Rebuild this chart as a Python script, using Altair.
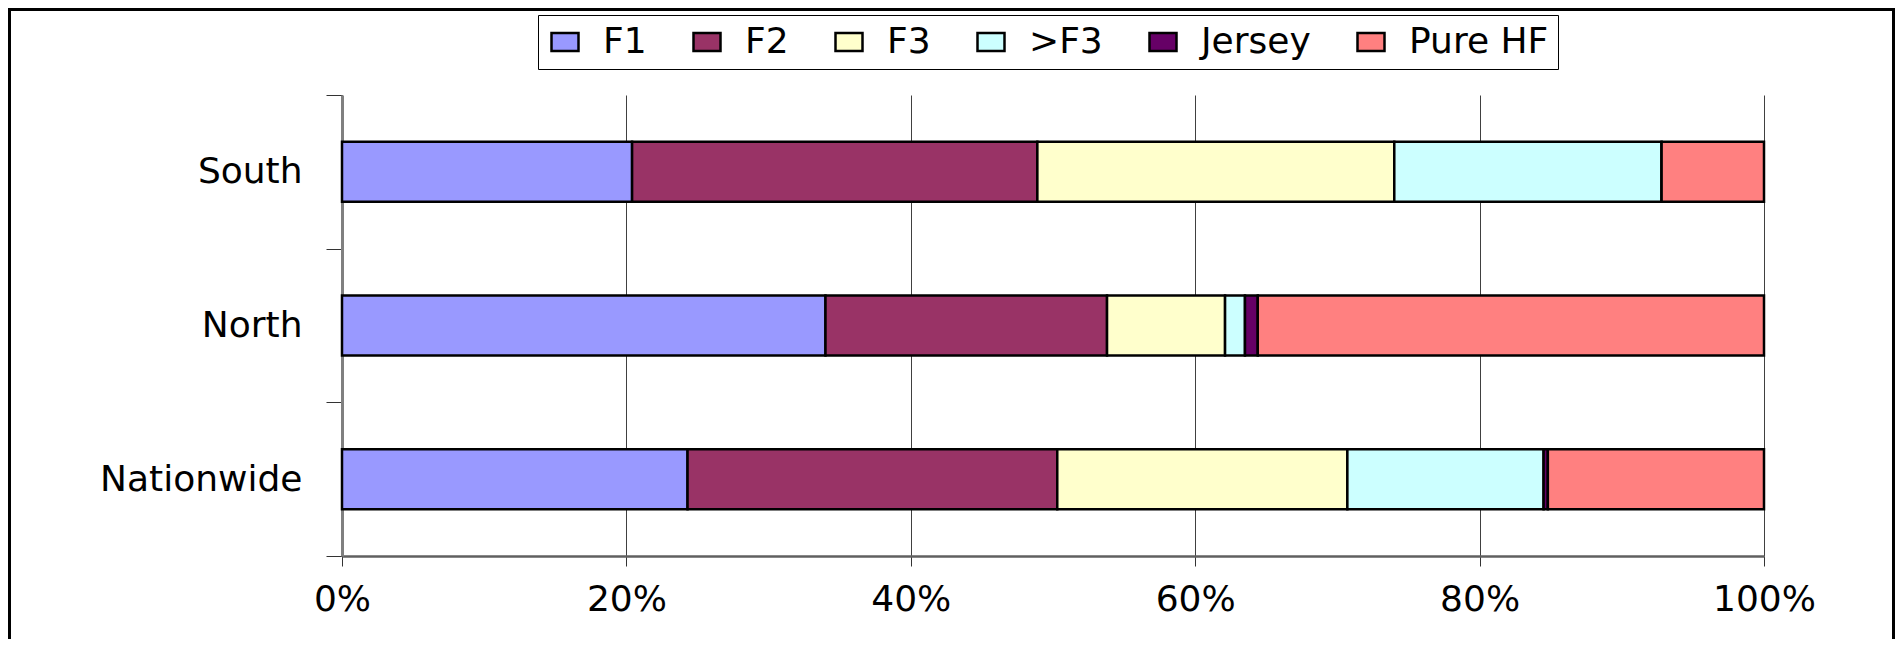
import altair as alt
import pandas as pd

# ---- data ----
regions = ["South", "North", "Nationwide"]
breeds = ["F1", "F2", "F3", ">F3", "Jersey", "Pure HF"]
south = [20.4, 28.5, 25.1, 18.8, 0.0, 7.2]
north = [34.0, 19.8, 8.3, 1.4, 0.9, 35.6]
nationwide = [24.3, 26.0, 20.4, 13.8, 0.3, 15.2]
colors = ["#9999FF", "#993366", "#FFFFCC", "#CCFFFF", "#660066", "#FF8080"]
x_ticks = [0, 0.2, 0.4, 0.6, 0.8, 1.0]

rows = []
for region, vals in zip(regions, [south, north, nationwide]):
    for i, (b, v) in enumerate(zip(breeds, vals)):
        rows.append({"region": region, "breed": b, "share": v, "order": i})
df = pd.DataFrame(rows)

FONT = "DejaVu Sans"
FS = 36
W, H = 1422, 461

bars = alt.Chart(df).mark_bar(
    stroke="black", strokeWidth=2.5, height={"band": 0.39}
).encode(
    y=alt.Y(
        "region:N",
        sort=regions,
        scale=alt.Scale(paddingInner=0, paddingOuter=0),
        axis=alt.Axis(
            title=None, tickBand="extent", tickSize=16, tickColor="#333333",
            tickWidth=1, domainColor="#808080", domainWidth=3,
            labelFontSize=FS, labelFont=FONT, labelColor="black",
            labelPadding=24, labelLimit=500, grid=False,
        ),
    ),
    x=alt.X(
        "share:Q",
        stack="normalize",
        scale=alt.Scale(domain=[0, 1], nice=False),
        axis=alt.Axis(
            title=None, values=x_ticks, format=".0%", tickSize=10,
            tickColor="#333333", tickWidth=1, domainColor="#606060",
            domainWidth=2.5, grid=True, gridColor="#404040", gridWidth=1,
            labelFontSize=FS, labelFont=FONT, labelColor="black",
            labelPadding=16, labelFlush=False, labelOverlap=False,
        ),
    ),
    color=alt.Color(
        "breed:N",
        sort=breeds,
        scale=alt.Scale(domain=breeds, range=colors),
        legend=alt.Legend(
            title=None, orient="none", legendX=196, legendY=-80,
            direction="horizontal", strokeColor="black", padding=9,
            fillColor="white",
            symbolType="M-1,-0.667L1,-0.667L1,0.667L-1,0.667Z",
            symbolSize=729, symbolStrokeColor="black", symbolStrokeWidth=2.5,
            symbolOpacity=1, labelFontSize=FS, labelFont=FONT,
            labelColor="black", labelOffset=20, columnPadding=41,
            labelLimit=400,
        ),
    ),
    order=alt.Order("order:Q"),
)

frame_df = pd.DataFrame({"k": [0]})
frame_top = alt.Chart(frame_df).mark_rule(color="black", strokeWidth=3).encode(
    x=alt.value(-334), x2=alt.value(1553), y=alt.value(-85.5)
)
frame_left = alt.Chart(frame_df).mark_rule(color="black", strokeWidth=3).encode(
    x=alt.value(-332.5), y=alt.value(-87), y2=alt.value(560)
)
frame_right = alt.Chart(frame_df).mark_rule(color="black", strokeWidth=3).encode(
    x=alt.value(1551.5), y=alt.value(-87), y2=alt.value(560)
)

chart = alt.layer(bars, frame_top, frame_left, frame_right).properties(
    width=W,
    height=H,
    padding={"left": 334, "top": 87, "right": 131, "bottom": 83},
    autosize=alt.AutoSizeParams(type="none"),
    background="white",
).configure_view(strokeWidth=0)

chart.save("out.html", embed_options={"renderer": "svg", "actions": False})
